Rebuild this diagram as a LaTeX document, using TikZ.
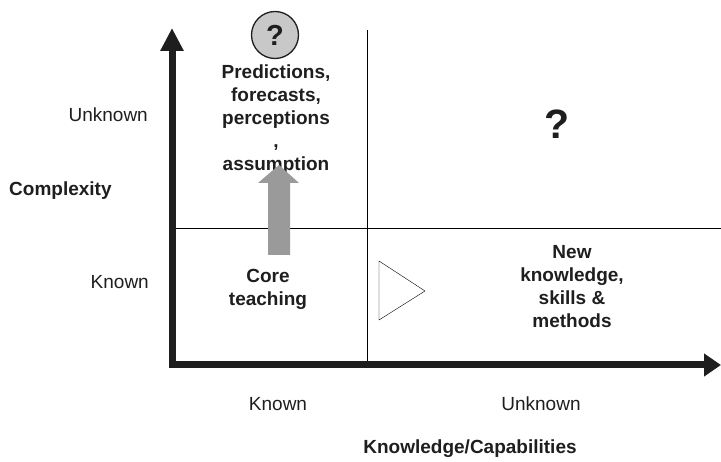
\documentclass[tikz,border=0pt]{standalone}
\usepackage{fontspec}
\setmainfont{Liberation Sans}
\usetikzlibrary{arrows.meta}
\definecolor{ink}{HTML}{1E1E1E}
\definecolor{thin}{HTML}{333333}
\definecolor{fatarrow}{HTML}{9A9A9A}
\definecolor{circfill}{HTML}{C8C8C8}
\begin{document}
\begin{tikzpicture}[x=1pt,y=-1pt,
  lbl/.style={text=ink,font=\fontsize{19}{23}\selectfont,inner sep=0pt},
  blbl/.style={text=ink,font=\fontsize{19}{23}\selectfont\bfseries,inner sep=0pt,align=center},
  axis/.style={line width=7pt,ink,{Triangle[length=23pt,width=22pt]}-{Triangle[length=17pt,width=22pt]}},
  grid/.style={line width=1.3pt,thin}]
\useasboundingbox (0,0) rectangle (721,462);
\coordinate (ytip) at (172,28);
\coordinate (o) at (172,365);
\coordinate (xtip) at (721,365);
\coordinate (hl) at (172,228);
\coordinate (hr) at (721,228);
\coordinate (vt) at (367,30);
\coordinate (vb) at (367,365);
% grid lines
\draw[grid] (hl) -- (hr);
\draw[grid] (vt) -- (vb);
% axes
\draw[axis,line join=miter] (ytip) -- (o) -- (xtip);
% circle with question mark
\node[circle,draw=ink,line width=1.3pt,fill=circfill,minimum size=47pt,inner sep=0pt,
  text=ink,font=\fontsize{29}{30}\selectfont\bfseries] (q1) at (275,35) {?};
% top-left text
\node[blbl,anchor=north] (pred) at (276,65) {Predictions,\\forecasts,\\perceptions\\,\\assumption};
% grey upward arrow
\fill[fatarrow] (268,255) -- (268,183) -- (258,183) -- (279,165) -- (299,183) -- (290,183) -- (290,255) -- cycle;
\coordinate (fa) at (279,210);
% core teaching
\node[blbl] (core) at (268,289) {Core\\teaching};
% triangle
\draw[line width=1.2pt,thin,line join=miter] (379,261) -- (379,320) -- (425,291) -- cycle;
\coordinate (tri) at (395,291);
% big question mark
\node[text=ink,font=\fontsize{41}{44}\selectfont\bfseries,inner sep=0pt] (q2) at (557,124) {?};
% new knowledge
\node[blbl] (newk) at (572,287) {New\\knowledge,\\skills \&\\methods};
% left labels
\node[lbl,anchor=east] (yunk) at (148,115) {Unknown};
\node[lbl,anchor=west,font=\fontsize{19}{23}\selectfont\bfseries] (cplx) at (9,191) {Complexity};
\node[lbl,anchor=east] (ykn) at (149,282) {Known};
% bottom labels
\node[lbl] (xkn) at (278,404) {Known};
\node[lbl] (xunk) at (541,404) {Unknown};
\node[lbl,font=\fontsize{19}{23}\selectfont\bfseries] (kc) at (470,449) {Knowledge/Capabilities};
\end{tikzpicture}
\end{document}
